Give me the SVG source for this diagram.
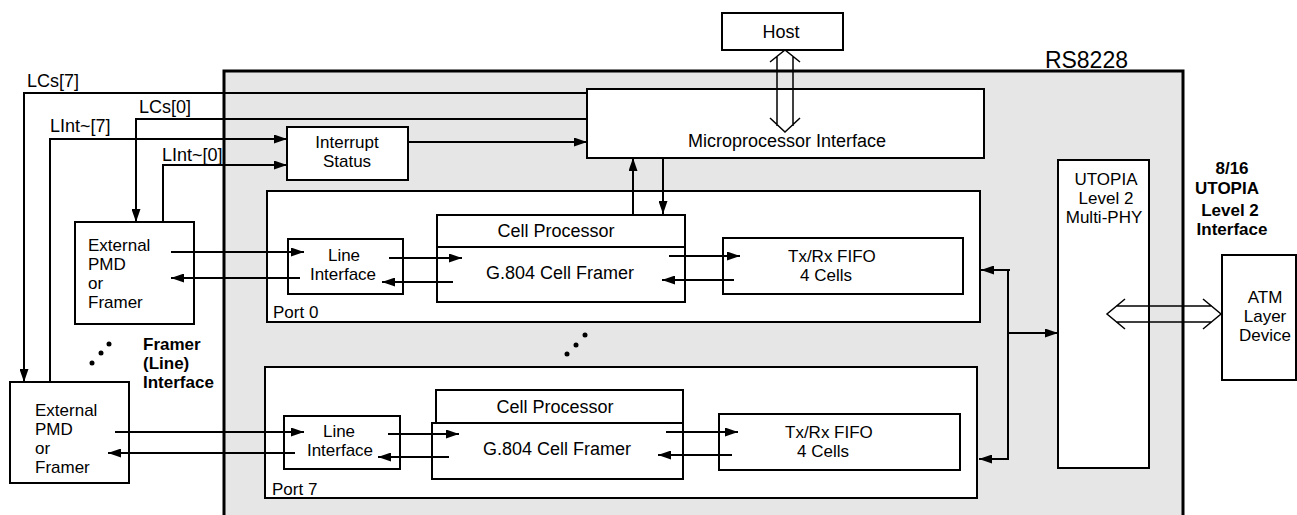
<svg xmlns="http://www.w3.org/2000/svg" width="1297" height="515" viewBox="0 0 1297 515">
<style>
.box{fill:#fff;stroke:#000;stroke-width:2}
.ln{fill:none;stroke:#000;stroke-width:2}
.hl{fill:none;stroke:#000;stroke-width:1.5}
.t{font-family:"Liberation Sans",Arial,sans-serif;font-size:17px;fill:#000}
.c{text-anchor:middle}
.b{font-family:"Liberation Sans",Arial,sans-serif;font-size:17px;font-weight:bold;fill:#000}
</style>
<defs>
<marker id="ah" markerUnits="userSpaceOnUse" markerWidth="13" markerHeight="9" refX="13" refY="4.5" orient="auto">
<path d="M0,0 L13,4.5 L0,9 z" fill="#000"/>
</marker>
</defs>
<rect width="1297" height="515" fill="#fff"/>

<g id="chip">
<rect x="224" y="71" width="959" height="460" fill="#e6e6e6" stroke="#000" stroke-width="3"/>
<text class="t" x="1128" y="68" text-anchor="end" style="font-size:23px">RS8228</text>
</g>

<g id="host">
<rect class="box" x="722" y="13" width="121" height="37"/>
<text class="t c" x="781" y="38" style="font-size:18px">Host</text>
</g>

<g id="micro">
<rect class="box" x="587" y="89" width="397" height="69"/>
<text class="t c" x="787" y="147" style="font-size:18px">Microprocessor Interface</text>
</g>

<g id="interrupt">
<rect class="box" x="287" y="127" width="121" height="53"/>
<text class="t c" x="347" y="148">Interrupt</text>
<text class="t c" x="347" y="167">Status</text>
</g>

<g id="pmd0">
<rect class="box" x="75" y="222" width="119" height="102"/>
<text class="t" x="88" y="251">External</text>
<text class="t" x="88" y="270">PMD</text>
<text class="t" x="88" y="289">or</text>
<text class="t" x="88" y="308">Framer</text>
</g>

<g id="pmd7">
<rect class="box" x="10" y="382" width="119" height="101"/>
<text class="t" x="35" y="416">External</text>
<text class="t" x="35" y="435">PMD</text>
<text class="t" x="35" y="454">or</text>
<text class="t" x="35" y="473">Framer</text>
</g>

<g id="port0">
<rect class="box" x="267" y="191" width="713" height="131"/>
<text class="t" x="273" y="318">Port 0</text>
</g>
<g id="line0">
<rect class="box" x="288" y="239" width="115" height="55"/>
<text class="t c" x="344" y="261">Line</text>
<text class="t c" x="343" y="280">Interface</text>
</g>
<g id="cell0">
<rect class="box" x="437" y="215" width="248" height="87"/>
<line class="ln" x1="437" y1="247" x2="685" y2="247"/>
<text class="t c" x="556" y="237" style="font-size:18px">Cell Processor</text>
<text class="t c" x="560" y="279" style="font-size:18px">G.804 Cell Framer</text>
</g>
<g id="fifo0">
<rect class="box" x="723" y="238" width="240" height="56"/>
<text class="t" x="788" y="262">Tx/Rx FIFO</text>
<text class="t" x="800" y="281">4 Cells</text>
</g>

<g id="port7">
<rect class="box" x="265" y="367" width="712" height="131"/>
<text class="t" x="272" y="495">Port 7</text>
</g>
<g id="line7">
<rect class="box" x="284" y="416" width="116" height="53"/>
<text class="t c" x="339" y="437">Line</text>
<text class="t c" x="340" y="456">Interface</text>
</g>
<g id="cell7">
<rect class="box" x="436" y="390" width="247" height="33"/>
<rect class="box" x="432" y="423" width="251" height="56"/>
<text class="t c" x="555" y="413" style="font-size:18px">Cell Processor</text>
<text class="t c" x="557" y="455" style="font-size:18px">G.804 Cell Framer</text>
</g>
<g id="fifo7">
<rect class="box" x="719" y="414" width="241" height="56"/>
<text class="t" x="785" y="438">Tx/Rx FIFO</text>
<text class="t" x="797" y="457">4 Cells</text>
</g>

<g id="utopia">
<rect class="box" x="1058" y="160" width="91" height="308"/>
<text class="t c" x="1106" y="185">UTOPIA</text>
<text class="t c" x="1106" y="204">Level 2</text>
<text class="t c" x="1104" y="223">Multi-PHY</text>
</g>

<g id="atm">
<rect class="box" x="1222" y="255" width="74" height="125"/>
<text class="t c" x="1265" y="303">ATM</text>
<text class="t c" x="1265" y="322">Layer</text>
<text class="t c" x="1265" y="341">Device</text>
</g>

<g id="labels">
<text class="t" x="27" y="87" style="font-size:18px">LCs[7]</text>
<text class="t" x="139" y="113" style="font-size:18px">LCs[0]</text>
<text class="t" x="50" y="132" style="font-size:18px">LInt~[7]</text>
<text class="t" x="162" y="161" style="font-size:18px">LInt~[0]</text>
<text class="b" x="143" y="350">Framer</text>
<text class="b" x="143" y="369">(Line)</text>
<text class="b" x="143" y="388">Interface</text>
<text class="b c" x="1232" y="174">8/16</text>
<text class="b c" x="1227" y="194">UTOPIA</text>
<text class="b c" x="1230" y="216">Level 2</text>
<text class="b c" x="1232" y="235">Interface</text>
</g>

<g id="dots" fill="#000">
<circle cx="92" cy="363" r="2.5"/>
<circle cx="101" cy="353" r="2.5"/>
<circle cx="109" cy="344" r="2.5"/>
<circle cx="567" cy="354" r="2.5"/>
<circle cx="576" cy="345" r="2.5"/>
<circle cx="585" cy="335" r="2.5"/>
</g>

<g id="connectors">
<polyline class="ln" points="587,93 24,93 24,382" marker-end="url(#ah)"/>
<polyline class="ln" points="587,119 136,119 136,222" marker-end="url(#ah)"/>
<polyline class="ln" points="50,382 50,139 287,139" marker-end="url(#ah)"/>
<polyline class="ln" points="163,222 163,165 287,165" marker-end="url(#ah)"/>
<line class="ln" x1="408" y1="142" x2="587" y2="142" marker-end="url(#ah)"/>
<line class="ln" x1="633" y1="215" x2="633" y2="158" marker-end="url(#ah)"/>
<line class="ln" x1="663" y1="158" x2="663" y2="214" marker-end="url(#ah)"/>

<line class="ln" x1="171" y1="252" x2="304" y2="252" marker-end="url(#ah)"/>
<line class="ln" x1="300" y1="278" x2="171" y2="278" marker-end="url(#ah)"/>
<line class="ln" x1="389" y1="258" x2="462" y2="258" marker-end="url(#ah)"/>
<line class="ln" x1="453" y1="282" x2="382" y2="282" marker-end="url(#ah)"/>
<line class="ln" x1="669" y1="256" x2="740" y2="256" marker-end="url(#ah)"/>
<line class="ln" x1="734" y1="280" x2="662" y2="280" marker-end="url(#ah)"/>

<line class="ln" x1="115" y1="432" x2="304" y2="432" marker-end="url(#ah)"/>
<line class="ln" x1="295" y1="453" x2="108" y2="453" marker-end="url(#ah)"/>
<line class="ln" x1="388" y1="434" x2="459" y2="434" marker-end="url(#ah)"/>
<line class="ln" x1="449" y1="457" x2="378" y2="457" marker-end="url(#ah)"/>
<line class="ln" x1="666" y1="432" x2="738" y2="432" marker-end="url(#ah)"/>
<line class="ln" x1="732" y1="455" x2="658" y2="455" marker-end="url(#ah)"/>

<line class="ln" x1="1008" y1="269" x2="1008" y2="460"/>
<line class="ln" x1="1010" y1="270" x2="981" y2="270" marker-end="url(#ah)"/>
<line class="ln" x1="1008" y1="459" x2="979" y2="459" marker-end="url(#ah)"/>
<line class="ln" x1="1008" y1="333" x2="1058" y2="333" marker-end="url(#ah)"/>

<path class="hl" d="M770,62 L785,50 L800,62 M770,118 L785,132 L800,118 M777,56 L777,126 M793,56 L793,126"/>
<path class="hl" d="M1125,299 L1107,314 L1125,329 M1203,299 L1221,314 L1203,329 M1116,306 L1212,306 M1116,322 L1212,322"/>
</g>
</svg>
